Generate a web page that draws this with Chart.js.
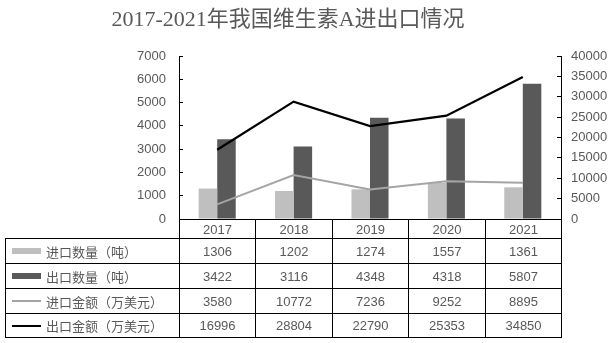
<!DOCTYPE html>
<html lang="zh-CN">
<head>
  <meta charset="UTF-8" />
  <title>2017-2021年我国维生素A进出口情况</title>
  <script src="https://cdn.jsdelivr.net/npm/chart.js"></script>
  <style>
    body {
      margin: 0;
      background: #fff;
    }
    .wrap {
      position: relative;
      width: 615px;
      height: 343px;
      overflow: hidden;
    }
    #title {
      position: absolute;
      left: 0;
      top: 6px;
      width: 576px;
      text-align: center;
      font-size: 22px;
      line-height: 26px;
      font-family: 'Liberation Serif', 'Noto Sans CJK SC', serif;
      color: #595959;
      white-space: nowrap;
    }
    .line {
      position: absolute;
      background: #000;
    }
    .cell {
      position: absolute;
      display: flex;
      align-items: center;
      justify-content: center;
      font-size: 13px;
      font-family: 'Liberation Sans', 'Noto Sans CJK SC', sans-serif;
      color: #595959;
      white-space: nowrap;
    }
    .cell.label {
      justify-content: flex-start;
      padding-left: 6px;
      box-sizing: border-box;
    }
    .key {
      display: inline-block;
      width: 29px;
      margin-right: 5px;
    }
  </style>
</head>
<body>
  <div class="wrap" id="wrap">
    <canvas id="chart" width="615" height="343"></canvas>
    <div id="title">2017-2021年我国维生素A进出口情况</div>
  </div>

  <script>
    // 数据
    const years = ['2017', '2018', '2019', '2020', '2021'];
    const importQty = [1306, 1202, 1274, 1557, 1361];      // 进口数量（吨）
    const exportQty = [3422, 3116, 4348, 4318, 5807];      // 出口数量（吨）
    const importAmt = [3580, 10772, 7236, 9252, 8895];     // 进口金额（万美元）
    const exportAmt = [16996, 28804, 22790, 25353, 34850]; // 出口金额（万美元）
    const seriesNames = ['进口数量（吨）', '出口数量（吨）', '进口金额（万美元）', '出口金额（万美元）'];
    const leftMax = 7000, leftStep = 1000;
    const rightMax = 40000, rightStep = 5000;

    const colors = ['#bfbfbf', '#595959', '#a5a5a5', '#000000'];
    const tickFont = { family: "'Liberation Sans', sans-serif", size: 13 };
    const plain = v => String(v);

    const chart = new Chart(document.getElementById('chart'), {
      type: 'bar',
      data: {
        labels: years,
        datasets: [
          { type: 'line', label: seriesNames[3], data: exportAmt, yAxisID: 'y1', order: 0,
            borderColor: colors[3], borderWidth: 2.25, pointRadius: 0, tension: 0 },
          { type: 'line', label: seriesNames[2], data: importAmt, yAxisID: 'y1', order: 0,
            borderColor: colors[2], borderWidth: 2, pointRadius: 0, tension: 0 },
          { label: seriesNames[0], data: importQty, yAxisID: 'y', order: 1,
            backgroundColor: colors[0], barPercentage: 1, categoryPercentage: 0.485 },
          { label: seriesNames[1], data: exportQty, yAxisID: 'y', order: 1,
            backgroundColor: colors[1], barPercentage: 1, categoryPercentage: 0.485 }
        ]
      },
      options: {
        responsive: false,
        animation: false,
        layout: { padding: { top: 56, left: 0, right: 0, bottom: 0 } },
        plugins: {
          legend: { display: false },
          title: { display: false },
          tooltip: { enabled: false }
        },
        scales: {
          x: {
            offset: true,
            ticks: { display: false },
            grid: { display: true, drawOnChartArea: false, drawTicks: false },
            border: { display: true, color: '#000', width: 1 },
            afterFit: s => { s.height = 124; }
          },
          y: {
            position: 'left',
            min: 0, max: leftMax,
            ticks: { stepSize: leftStep, padding: 17, color: '#595959', font: tickFont, callback: plain },
            grid: { drawOnChartArea: false, tickLength: -4, color: '#000' },
            border: { color: '#000', width: 1 },
            afterFit: s => { s.width = 179; }
          },
          y1: {
            position: 'right',
            min: 0, max: rightMax,
            ticks: { stepSize: rightStep, padding: 14, color: '#595959', font: tickFont, callback: plain },
            grid: { drawOnChartArea: false, tickLength: -4, color: '#000' },
            border: { color: '#000', width: 1 },
            afterFit: s => { s.width = 54; }
          }
        }
      }
    });

    // 数据表（位置取自图表的 x 轴）
    function buildTable(chart) {
      const wrap = document.getElementById('wrap');
      const xs = chart.scales.x;
      const area = chart.chartArea;
      const tableLeft = 5;
      const edges = [area.left];
      for (let i = 1; i < years.length; i++) {
        edges.push((xs.getPixelForValue(i - 1) + xs.getPixelForValue(i)) / 2);
      }
      edges.push(area.right);
      const ex = edges.map(Math.round);
      const rowLines = [Math.round(area.bottom), 238, 263, 288, 313, 337];
      const bottom = rowLines[rowLines.length - 1];

      function line(x, y, w, h) {
        const d = document.createElement('div');
        d.className = 'line';
        d.style.left = x + 'px'; d.style.top = y + 'px';
        d.style.width = w + 'px'; d.style.height = h + 'px';
        wrap.appendChild(d);
      }
      function cell(x, y, w, h, html, cls) {
        const d = document.createElement('div');
        d.className = 'cell' + (cls ? ' ' + cls : '');
        d.style.left = x + 'px'; d.style.top = y + 'px';
        d.style.width = w + 'px'; d.style.height = h + 'px';
        d.innerHTML = html;
        wrap.appendChild(d);
      }

      // 横线
      line(ex[0], rowLines[0], ex[ex.length - 1] - ex[0] + 1, 1);
      for (let r = 1; r < rowLines.length; r++) {
        line(tableLeft, rowLines[r], ex[ex.length - 1] - tableLeft + 1, 1);
      }
      // 竖线
      line(tableLeft, rowLines[1], 1, bottom - rowLines[1] + 1);
      ex.forEach(x => line(x, rowLines[0], 1, bottom - rowLines[0] + 1));

      // 年份
      years.forEach((y, i) => {
        cell(ex[i] + 1, rowLines[0] + 1, ex[i + 1] - ex[i] - 1, rowLines[1] - rowLines[0] - 1, y);
      });

      const rows = [importQty, exportQty, importAmt, exportAmt];
      const keys = [
        `<span class="key" style="height:6px;background:${colors[0]}"></span>`,
        `<span class="key" style="height:6px;background:${colors[1]}"></span>`,
        `<span class="key" style="height:2px;background:${colors[2]}"></span>`,
        `<span class="key" style="height:2px;background:${colors[3]}"></span>`
      ];
      rows.forEach((vals, r) => {
        const top = rowLines[r + 1] + 1;
        const h = rowLines[r + 2] - rowLines[r + 1] - 1;
        cell(tableLeft + 1, top, ex[0] - tableLeft - 1, h, keys[r] + seriesNames[r], 'label');
        vals.forEach((v, i) => {
          cell(ex[i] + 1, top, ex[i + 1] - ex[i] - 1, h, String(v));
        });
      });
    }

    buildTable(chart);
  </script>
</body>
</html>
